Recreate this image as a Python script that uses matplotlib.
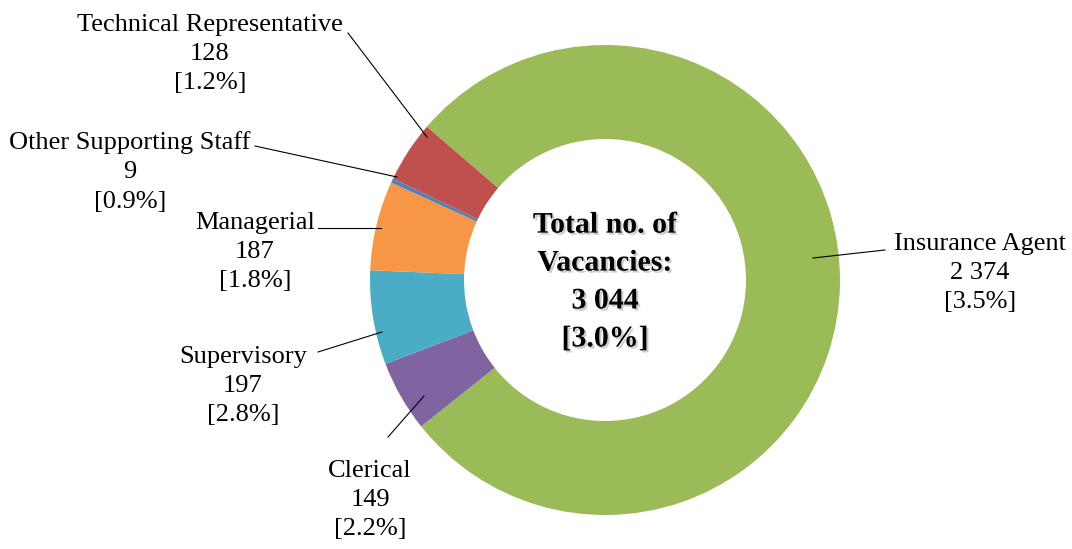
import matplotlib
matplotlib.use("Agg")
import matplotlib.pyplot as plt
import matplotlib.patheffects as pe

# data (clockwise from the green slice)
categories = ["Insurance Agent", "Clerical", "Supervisory", "Managerial",
              "Other Supporting Staff", "Technical Representative"]
vacancies = [2374, 149, 197, 187, 9, 128]
count_labels = ["2 374", "149", "197", "187", "9", "128"]
rate_labels = ["3.5%", "2.2%", "2.8%", "1.8%", "0.9%", "1.2%"]
total_label = "3 044"
total_rate = "3.0%"

colors = ["#9BBB59", "#8064A2", "#4BACC6", "#F79646", "#4F81BD", "#C0504D"]

W, H = 1072, 549
fig = plt.figure(figsize=(W / 100, H / 100), dpi=100)
ax = fig.add_axes([0, 0, 1, 1])

cx, cy, r_out, r_in = 605, H - 280, 235, 141
ax.pie(vacancies, colors=colors, startangle=139.3, counterclock=False,
       center=(cx, cy), radius=r_out,
       wedgeprops=dict(width=r_out - r_in, linewidth=0))
ax.set_xlim(0, W)
ax.set_ylim(0, H)
ax.set_aspect("equal")
ax.axis("off")

# label layout in pixel coords: text centre, line start, line end
layout = {
    "Insurance Agent": ((980, 273), (885, 250), (813, 258)),
    "Clerical": ((370, 500), (388, 437), (424, 396)),
    "Supervisory": ((243, 386), (318, 352), (382, 332)),
    "Managerial": ((255, 252), (318, 228), (381, 228)),
    "Other Supporting Staff": ((130, 172), (255, 146), (397, 177)),
    "Technical Representative": ((210, 54), (348, 33), (427, 137)),
}

for cat, cnt, rate in zip(categories, count_labels, rate_labels):
    (tx, ty), (x0, y0), (x1, y1) = layout[cat]
    ax.text(tx, H - ty, f"{cat}\n{cnt}\n[{rate}]", ha="center", va="center",
            fontsize=19, family="Liberation Serif", linespacing=1.42)
    ax.plot([x0, x1], [H - y0, H - y1], color="black", lw=0.8)

ax.text(cx, cy - 2, f"Total no. of\nVacancies:\n{total_label}\n[{total_rate}]",
        ha="center", va="center", fontsize=21.5, fontweight="bold",
        family="Liberation Serif", linespacing=1.52,
        path_effects=[pe.withSimplePatchShadow(offset=(1.5, -1.5),
                                               shadow_rgbFace="gray", alpha=0.4)])

fig.savefig("out.png", dpi=100)
